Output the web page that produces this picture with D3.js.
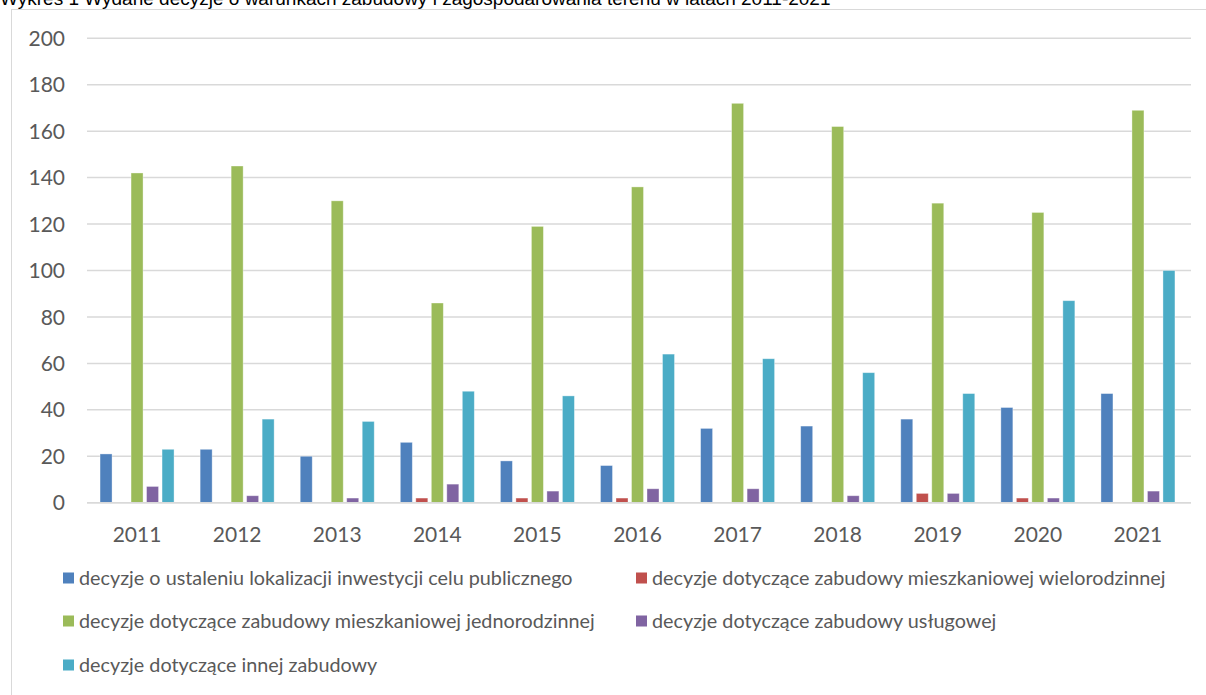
<!DOCTYPE html>
<html lang="pl">
  <head>
    <meta charset="UTF-8" />
    <title>Wykres 1</title>
    <script src="https://d3js.org/d3.v7.min.js"></script>
    <style>
      body { margin: 0; background: #fff; }
      svg { display: block; }
    </style>
  </head>
  <body>
    <script>
      const years = ["2011","2012","2013","2014","2015","2016","2017","2018","2019","2020","2021"];
      const seriesNames = [
        "decyzje o ustaleniu lokalizacji inwestycji celu publicznego",
        "decyzje dotyczące zabudowy mieszkaniowej wielorodzinnej",
        "decyzje dotyczące zabudowy mieszkaniowej jednorodzinnej",
        "decyzje dotyczące zabudowy usługowej",
        "decyzje dotyczące innej zabudowy"
      ];
      const publiczne = [21, 23, 20, 26, 18, 16, 32, 33, 36, 41, 47];
      const wielorodzinne = [0, 0, 0, 2, 2, 2, 0, 0, 4, 2, 0];
      const jednorodzinne = [142, 145, 130, 86, 119, 136, 172, 162, 129, 125, 169];
      const uslugowe = [7, 3, 2, 8, 5, 6, 6, 3, 4, 2, 5];
      const inne = [23, 36, 35, 48, 46, 64, 62, 56, 47, 87, 100];
      const yTicks = [0, 20, 40, 60, 80, 100, 120, 140, 160, 180, 200];
      const colors = ["#4F81BD", "#C0504D", "#9BBB59", "#8064A2", "#4BACC6"];

      const seriesValues = [publiczne, wielorodzinne, jednorodzinne, uslugowe, inne];

      const width = 1206;
      const height = 695;
      const svg = d3.select("body").append("svg")
        .attr("width", width)
        .attr("height", height);

      // chart frame (only top and left edges fall inside the picture)
      svg.append("rect")
        .attr("x", 11.5).attr("y", 9.5)
        .attr("width", 1400).attr("height", 1000)
        .attr("fill", "none")
        .attr("stroke", "#D9D9D9")
        .attr("stroke-width", 1);

      // title, cut off at the top like in the source
      svg.append("text")
        .attr("x", 0).attr("y", 5)
        .style("font-family", "'Liberation Sans', Arial, sans-serif")
        .style("font-size", "19px")
        .attr("fill", "#000")
        .text("Wykres 1 Wydane decyzje o warunkach zabudowy i zagospodarowania terenu w latach 2011-2021");

      const x0 = d3.scaleBand().domain(years).range([87, 1188]).padding(0);
      const x1 = d3.scaleBand().domain(d3.range(seriesNames.length))
        .range([0, 74]).paddingInner(3.5 / 15.5).paddingOuter(0);
      const y = d3.scaleLinear().domain([0, 200]).range([502.7, 38.3]);

      const font = "Lato, 'Open Sans', sans-serif";

      // gridlines
      svg.append("g").selectAll("line")
        .data(yTicks)
        .join("line")
        .attr("x1", 87).attr("x2", 1191)
        .attr("y1", d => y(d)).attr("y2", d => y(d))
        .attr("stroke", "#D9D9D9")
        .attr("stroke-width", 1.5);

      // y labels
      svg.append("g").selectAll("text")
        .data(yTicks)
        .join("text")
        .attr("x", 65)
        .attr("y", d => y(d))
        .attr("dy", "0.36em")
        .attr("text-anchor", "end")
        .style("font-family", font)
        .style("font-size", "21px")
        .attr("fill", "#595959")
        .text(d => d);

      // bars
      const offset = (x0.bandwidth() - 74) / 2;
      const groups = svg.append("g").selectAll("g")
        .data(years)
        .join("g")
        .attr("transform", d => `translate(${x0(d) + offset},0)`);

      groups.selectAll("rect")
        .data((d, i) => seriesValues.map((vals, s) => ({ s: s, v: vals[i] })))
        .join("rect")
        .attr("x", d => x1(d.s))
        .attr("width", x1.bandwidth())
        .attr("y", d => y(d.v))
        .attr("height", d => y(0) - y(d.v))
        .attr("fill", d => colors[d.s])
        .attr("stroke", "#ffffff")
        .attr("stroke-opacity", 0.45)
        .attr("stroke-width", 0.8);

      // baseline on top of the bars
      svg.append("line")
        .attr("x1", 87).attr("x2", 1191)
        .attr("y1", y(0)).attr("y2", y(0))
        .attr("stroke", "#D9D9D9")
        .attr("stroke-width", 1.5);

      // x labels
      svg.append("g").selectAll("text")
        .data(years)
        .join("text")
        .attr("x", d => x0(d) + x0.bandwidth() / 2)
        .attr("y", 541.5)
        .attr("text-anchor", "middle")
        .style("font-family", font)
        .style("font-size", "21px")
        .attr("fill", "#595959")
        .text(d => d);

      // legend
      const legendPos = [
        [63, 578], [636, 578],
        [63, 621], [636, 621],
        [63, 665]
      ];
      const legend = svg.append("g").selectAll("g")
        .data(seriesNames)
        .join("g")
        .attr("transform", (d, i) => `translate(${legendPos[i][0]},${legendPos[i][1]})`);
      legend.append("rect")
        .attr("x", 0).attr("y", -5.5)
        .attr("width", 11).attr("height", 11)
        .attr("fill", (d, i) => colors[i]);
      legend.append("text")
        .attr("x", 16)
        .attr("dy", "0.35em")
        .style("font-family", font)
        .style("font-size", "19.8px")
        .attr("fill", "#595959")
        .text(d => d);
    </script>
  </body>
</html>
